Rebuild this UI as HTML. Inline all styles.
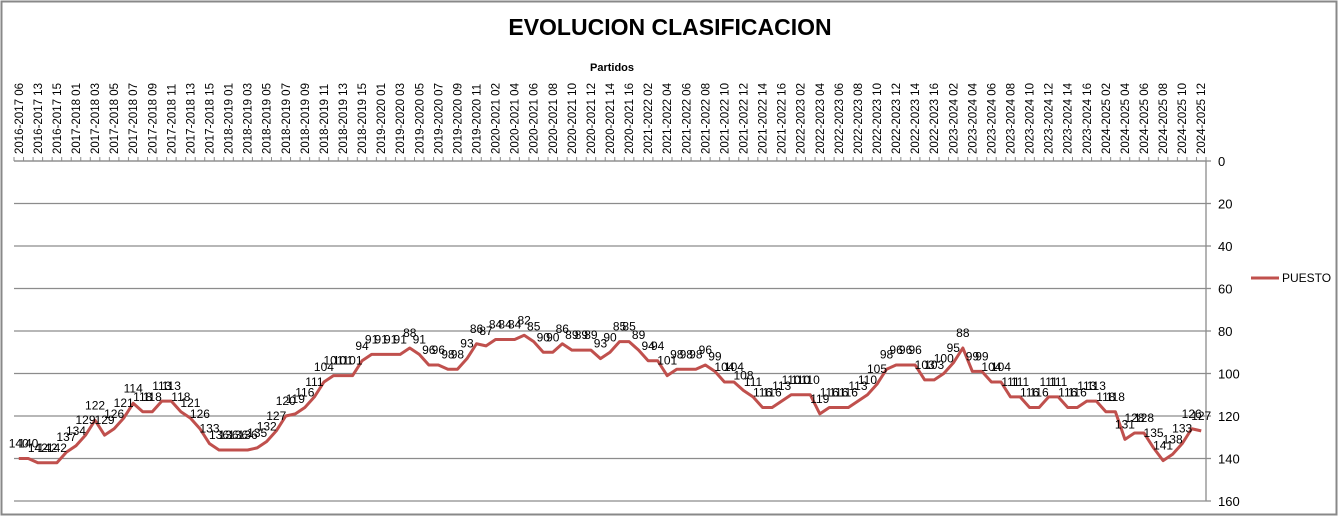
<!DOCTYPE html>
<html><head><meta charset="utf-8"><style>
html,body{margin:0;padding:0;background:#fff;}
svg{display:block;font-family:"Liberation Sans",sans-serif;}
</style></head><body>
<svg id="chart" width="1339" height="517" viewBox="0 0 1339 517" xmlns="http://www.w3.org/2000/svg">
<rect x="1.5" y="1.5" width="1335" height="1513" fill="#fff" stroke="#888" stroke-width="2" style="height:513px"/>
<text x="670" y="35" text-anchor="middle" font-size="23" font-weight="bold" fill="#000">EVOLUCION CLASIFICACION</text>
<text x="612" y="71" text-anchor="middle" font-size="11" font-weight="bold" fill="#000">Partidos</text>
<g id="grid"></g><g id="xaxis"></g><g id="yaxis"></g><g id="series"></g><g id="labels"></g>
<g>
<line x1="1251" y1="278" x2="1279" y2="278" stroke="#C0504D" stroke-width="3"/>
<text x="1282" y="282" font-size="12" fill="#000">PUESTO</text>
</g>
</svg>
<script>
const categories=["2016-2017 06","2016-2017 10","2016-2017 13","2016-2017 14","2016-2017 15","2016-2017 16",
"2017-2018 01","2017-2018 02","2017-2018 03","2017-2018 04","2017-2018 05","2017-2018 06","2017-2018 07","2017-2018 08","2017-2018 09","2017-2018 10","2017-2018 11","2017-2018 12","2017-2018 13","2017-2018 14","2017-2018 15","2017-2018 16",
"2018-2019 01","2018-2019 02","2018-2019 03","2018-2019 04","2018-2019 05","2018-2019 06","2018-2019 07","2018-2019 08","2018-2019 09","2018-2019 10","2018-2019 11","2018-2019 12","2018-2019 13","2018-2019 14","2018-2019 15","2018-2019 16",
"2019-2020 01","2019-2020 02","2019-2020 03","2019-2020 04","2019-2020 05","2019-2020 06","2019-2020 07","2019-2020 08","2019-2020 09","2019-2020 10","2019-2020 11",
"2020-2021 01","2020-2021 02","2020-2021 03","2020-2021 04","2020-2021 05","2020-2021 06","2020-2021 07","2020-2021 08","2020-2021 09","2020-2021 10","2020-2021 11","2020-2021 12","2020-2021 13","2020-2021 14","2020-2021 15","2020-2021 16",
"2021-2022 01","2021-2022 02","2021-2022 03","2021-2022 04","2021-2022 05","2021-2022 06","2021-2022 07","2021-2022 08","2021-2022 09","2021-2022 10","2021-2022 11","2021-2022 12","2021-2022 13","2021-2022 14","2021-2022 15","2021-2022 16",
"2022-2023 01","2022-2023 02","2022-2023 03","2022-2023 04","2022-2023 05","2022-2023 06","2022-2023 07","2022-2023 08","2022-2023 09","2022-2023 10","2022-2023 11","2022-2023 12","2022-2023 13","2022-2023 14","2022-2023 15","2022-2023 16",
"2023-2024 01","2023-2024 02","2023-2024 03","2023-2024 04","2023-2024 05","2023-2024 06","2023-2024 07","2023-2024 08","2023-2024 09","2023-2024 10","2023-2024 11","2023-2024 12","2023-2024 13","2023-2024 14","2023-2024 15","2023-2024 16",
"2024-2025 01","2024-2025 02","2024-2025 03","2024-2025 04","2024-2025 05","2024-2025 06","2024-2025 07","2024-2025 08","2024-2025 09","2024-2025 10","2024-2025 11","2024-2025 12"];
const puesto=[140,140,142,142,142,137,134,129,122,129,126,121,114,118,118,113,113,118,121,126,
133,136,136,136,136,135,132,127,120,119,116,111,104,101,101,101,94,91,91,91,
91,88,91,96,96,98,98,93,86,87,84,84,84,82,85,90,90,86,89,89,
89,93,90,85,85,89,94,94,101,98,98,98,96,99,104,104,108,111,116,116,
113,110,110,110,119,116,116,116,113,110,105,98,96,96,96,103,103,100,95,88,
99,99,104,104,111,111,116,116,111,111,116,116,113,113,118,118,131,128,128,135,
141,138,133,126,127];
const yTicks=[0,20,40,60,80,100,120,140,160];
const NS="http://www.w3.org/2000/svg";
const X0=14,X1=1206,Y0=161,Y1=501,YMAX=160;
const step=(X1-X0)/categories.length;
function xPos(i){return X0+step*(i+0.5);}
function yPos(v){return Y0+(v/YMAX)*(Y1-Y0);}
function mk(tag,attrs,parent){const e=document.createElementNS(NS,tag);for(const k in attrs)e.setAttribute(k,attrs[k]);parent.appendChild(e);return e;}
const grid=document.getElementById('grid'),xa=document.getElementById('xaxis'),ya=document.getElementById('yaxis'),ser=document.getElementById('series'),lab=document.getElementById('labels');
yTicks.forEach(t=>{
  const y=yPos(t);
  const g=mk('line',{x1:X0,y1:y,x2:X1,y2:y,stroke:'#8c8c8c','stroke-width':1.3},grid);
  
  
  const tk=mk('line',{x1:X1,y1:y,x2:X1+5,y2:y,stroke:'#8c8c8c','stroke-width':1.3},ya);
  
  
  const tx=mk('text',{x:1218,y:y+5,'font-size':13,fill:'#000'},ya);
  tx.textContent=t;
  
  
});
const yl=mk('line',{x1:X1,y1:Y0,x2:X1,y2:Y1,stroke:'#8c8c8c','stroke-width':1.3},ya);


const xl=mk('line',{x1:X0,y1:Y0,x2:X1,y2:Y0,stroke:'#8c8c8c','stroke-width':1.3},xa);


for(let i=0;i<=categories.length;i++){
  const x=X0+step*i;
  const t=mk('line',{x1:x,y1:Y0,x2:x,y2:Y0-4,stroke:'#8c8c8c','stroke-width':1},xa);
  
  
}
categories.forEach((c,i)=>{
  if(i%2!==0)return;
  const x=xPos(i)+4,y=154;
  const t=mk('text',{x:x,y:y,'font-size':11.5,fill:'#000',transform:`rotate(-90 ${x} ${y})`},xa);
  t.textContent=c;
  
  
});
const pts=puesto.map((v,i)=>xPos(i).toFixed(2)+','+yPos(v).toFixed(2)).join(' ');
const pl=mk('polyline',{points:pts,fill:'none',stroke:'#C0504D','stroke-width':3,'stroke-linejoin':'round'},ser);


puesto.forEach((v,i)=>{
  const t=mk('text',{x:xPos(i),y:yPos(v)-11,'font-size':12,'text-anchor':'middle',fill:'#000'},lab);
  t.textContent=v;
  
  
});
</script>
</body></html>
